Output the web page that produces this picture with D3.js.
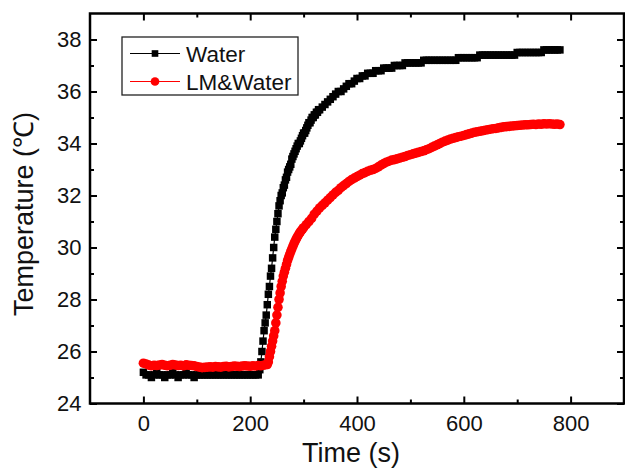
<!DOCTYPE html>
<html>
<head>
<meta charset="utf-8">
<script src="https://cdn.jsdelivr.net/npm/d3@7"></script>
<style>
  html, body { margin: 0; padding: 0; background: #fff; }
  svg { display: block; }
  text { font-family: "Liberation Sans", Arial, sans-serif; fill: #111; }
</style>
</head>
<body>
<svg id="chart" width="625" height="469"></svg>
<script>
// Temperature records, [time (s), temperature (°C)]
const waterSeries = [
  [0,25.2],[5,25.1],[10,25.1],[15,25.0],[20,25.1],[25,25.2],[30,25.1],[35,25.1],[40,25.0],[45,25.1],
  [50,25.1],[55,25.2],[60,25.1],[65,25.0],[70,25.1],[75,25.1],[80,25.2],[85,25.1],[90,25.1],[95,25.0],
  [100,25.1],[105,25.1],[110,25.1],[115,25.1],[120,25.1],[125,25.1],[130,25.1],[135,25.1],[140,25.1],
  [145,25.1],[150,25.1],[155,25.1],[160,25.1],[165,25.1],[170,25.1],[175,25.1],[180,25.1],[185,25.1],
  [190,25.1],[195,25.1],[200,25.1],[205,25.1],[210,25.1],[215,25.1],
  [218,25.3],[220,25.6],[222,26.0],[224,26.4],[226,26.8],[228,27.1],[230,27.4],[232,27.8],[234,28.2],
  [236,28.5],[238,28.9],[240,29.2],[242,29.6],[244,30.0],[246,30.4],[248,30.7],[250,31.0],[252,31.3],
  [254,31.6],[256,31.8],[258,32.0],[260,32.1],[262,32.3],[264,32.4],[266,32.6],[268,32.7],[270,32.9],
  [272,33.0],[274,33.1],[276,33.2],[278,33.4],[280,33.5],[282,33.6],[284,33.7],[286,33.8],[288,33.9],
  [290,34.0],[292,34.0],[294,34.1],[296,34.2],[298,34.3],[300,34.4],[302,34.4],[304,34.5],[306,34.6],
  [308,34.7],[310,34.8],[312,34.8],[314,34.9],[316,35.0],[318,35.0],[320,35.1],[322,35.1],[324,35.2],
  [326,35.2],[328,35.3],[330,35.3],
  [335,35.4],[340,35.5],[345,35.6],[350,35.7],[355,35.8],[360,35.9],[365,36.0],[370,36.0],[375,36.1],
  [380,36.2],[385,36.3],[390,36.3],[395,36.4],[400,36.5],[405,36.5],[410,36.6],[415,36.6],[420,36.7],
  [425,36.7],[430,36.7],[435,36.8],[440,36.8],[445,36.8],[450,36.9],[455,36.9],[460,36.9],[465,36.9],
  [470,37.0],[475,37.0],[480,37.0],[485,37.0],[490,37.1],[495,37.1],[500,37.1],[505,37.1],[510,37.1],
  [515,37.1],[520,37.1],[525,37.2],[530,37.2],[535,37.2],[540,37.2],[545,37.2],[550,37.2],[555,37.2],
  [560,37.2],[565,37.2],[570,37.2],[575,37.2],[580,37.2],[585,37.2],[590,37.3],[595,37.3],[600,37.3],
  [605,37.3],[610,37.3],[615,37.3],[620,37.3],[625,37.3],[630,37.4],[635,37.4],[640,37.4],[645,37.4],
  [650,37.4],[655,37.4],[660,37.4],[665,37.4],[670,37.4],[675,37.4],[680,37.4],[685,37.4],[690,37.4],
  [695,37.4],[700,37.5],[705,37.5],[710,37.5],[715,37.5],[720,37.5],[725,37.5],[730,37.5],[735,37.5],
  [740,37.5],[745,37.5],[750,37.6],[755,37.6],[760,37.6],[765,37.6],[770,37.6],[775,37.6],[780,37.6]
];

const lmWaterSeries = [
  [0,25.55],[5,25.52],[10,25.48],[15,25.45],[20,25.47],[25,25.46],[30,25.48],[35,25.5],[40,25.47],
  [45,25.45],[50,25.47],[55,25.5],[60,25.48],[65,25.46],[70,25.47],[75,25.45],[80,25.49],[85,25.47],
  [90,25.46],[95,25.45],[100,25.42],[105,25.4],[110,25.38],[115,25.39],[120,25.4],[125,25.41],
  [130,25.4],[135,25.42],[140,25.41],[145,25.4],[150,25.42],[155,25.43],[160,25.41],[165,25.42],
  [170,25.44],[175,25.43],[180,25.42],[185,25.44],[190,25.45],[195,25.44],[200,25.43],[205,25.45],
  [210,25.44],[215,25.46],[220,25.45],[225,25.47],[230,25.5],
  [232,25.5],[234,25.6],[236,25.8],[238,26.0],[240,26.2],[242,26.4],[244,26.6],[246,26.8],[248,27.1],
  [250,27.4],[252,27.7],[254,28.0],[256,28.25],[258,28.5],[260,28.7],[262,28.9],[264,29.05],[266,29.2],
  [268,29.35],[270,29.5],[272,29.62],[274,29.74],[276,29.85],[278,29.95],[280,30.05],[282,30.15],
  [284,30.24],[286,30.32],[288,30.4],[290,30.47],[292,30.54],[294,30.6],[296,30.66],[298,30.71],[300,30.76],
  [305,30.88],[310,31.0],[315,31.12],[320,31.28],[325,31.4],[330,31.52],[335,31.62],[340,31.72],
  [345,31.82],[350,31.92],[355,32.02],[360,32.12],[365,32.2],[370,32.3],[375,32.38],[380,32.46],
  [385,32.54],[390,32.61],[395,32.67],[400,32.73],[405,32.78],[410,32.84],[415,32.88],[420,32.93],
  [425,32.97],[430,33.0],[435,33.04],[440,33.1],[445,33.17],[450,33.23],[455,33.28],[460,33.32],
  [465,33.36],[470,33.38],[475,33.41],[480,33.44],[485,33.47],[490,33.5],[495,33.54],[500,33.57],
  [505,33.6],[510,33.63],[515,33.66],[520,33.69],[525,33.72],[530,33.76],[535,33.8],[540,33.85],
  [545,33.9],[550,33.95],[555,34.0],[560,34.05],[565,34.09],[570,34.13],[575,34.17],[580,34.2],
  [585,34.23],[590,34.26],[595,34.28],[600,34.31],[605,34.34],[610,34.37],[615,34.4],[620,34.43],
  [625,34.45],[630,34.47],[635,34.49],[640,34.51],[645,34.53],[650,34.55],[655,34.57],[660,34.58],
  [665,34.6],[670,34.62],[675,34.64],[680,34.65],[685,34.66],[690,34.67],[695,34.68],[700,34.69],
  [705,34.7],[710,34.71],[715,34.72],[720,34.72],[725,34.73],[730,34.74],[735,34.73],[740,34.75],
  [745,34.74],[750,34.76],[755,34.75],[760,34.76],[765,34.75],[770,34.74],[775,34.75],[780,34.73]
];

const seriesNames = ["Water", "LM&Water"];
const xMajorTicks = [0, 200, 400, 600, 800];
const xMinorTicks = [100, 300, 500, 700];
const yMajorTicks = [24, 26, 28, 30, 32, 34, 36, 38];
const yMinorTicks = [25, 27, 29, 31, 33, 35, 37];
const xTitle = "Time (s)";
const yTitle = "Temperature (\u2103)";

const svg = d3.select("#chart");
const plotLeft = 90, plotRight = 624, plotTop = 13.5, plotBottom = 403.5;

const x = d3.scaleLinear().domain([-100, 900]).range([plotLeft, plotRight]);
const y = d3.scaleLinear().domain([24, 39]).range([plotBottom, plotTop]);

// axes: major ticks (labelled on bottom/left) and minor ticks, all pointing inward
function styleAxis(g) {
  g.select(".domain").remove();
  g.selectAll(".tick line").attr("stroke", "#000").attr("stroke-width", 2);
}
function styleLabels(g) {
  g.selectAll("text")
    .attr("font-size", 22)
    .attr("font-family", "Liberation Sans, Arial, sans-serif")
    .attr("fill", "#111");
}

svg.append("g").attr("transform", `translate(0,${plotBottom})`)
  .call(d3.axisBottom(x).tickValues(xMajorTicks).tickSize(-7).tickPadding(11.5).tickFormat(d3.format("d")))
  .call(styleAxis).call(styleLabels);
svg.append("g").attr("transform", `translate(0,${plotBottom})`)
  .call(d3.axisBottom(x).tickValues(xMinorTicks).tickSize(-4).tickFormat(""))
  .call(styleAxis);
svg.append("g").attr("transform", `translate(0,${plotTop})`)
  .call(d3.axisTop(x).tickValues(xMajorTicks).tickSize(-7).tickFormat(""))
  .call(styleAxis);
svg.append("g").attr("transform", `translate(0,${plotTop})`)
  .call(d3.axisTop(x).tickValues(xMinorTicks).tickSize(-4).tickFormat(""))
  .call(styleAxis);

svg.append("g").attr("transform", `translate(${plotLeft},0)`)
  .call(d3.axisLeft(y).tickValues(yMajorTicks).tickSize(-7).tickPadding(8.5).tickFormat(d3.format("d")))
  .call(styleAxis).call(styleLabels);
svg.append("g").attr("transform", `translate(${plotLeft},0)`)
  .call(d3.axisLeft(y).tickValues(yMinorTicks).tickSize(-4).tickFormat(""))
  .call(styleAxis);
svg.append("g").attr("transform", `translate(${plotRight},0)`)
  .call(d3.axisRight(y).tickValues(yMajorTicks).tickSize(-7).tickFormat(""))
  .call(styleAxis);
svg.append("g").attr("transform", `translate(${plotRight},0)`)
  .call(d3.axisRight(y).tickValues(yMinorTicks).tickSize(-4).tickFormat(""))
  .call(styleAxis);

// plot frame
svg.append("rect")
  .attr("x", plotLeft).attr("y", plotTop)
  .attr("width", plotRight - plotLeft).attr("height", plotBottom - plotTop)
  .attr("fill", "none").attr("stroke", "#000").attr("stroke-width", 2.5);

// axis titles
svg.append("text")
  .attr("x", 351).attr("y", 462)
  .attr("text-anchor", "middle").attr("font-size", 27)
  .text(xTitle);
svg.append("text")
  .attr("transform", "translate(33,214) rotate(-90)")
  .attr("text-anchor", "middle").attr("font-size", 27)
  .text(yTitle);

// data series: thin connecting line plus dense symbols
const line = d3.line().x(d => x(d[0])).y(d => y(d[1]));
const series = [
  { name: seriesNames[0], data: waterSeries, color: "#000", symbol: d3.symbolSquare, size: 56 },
  { name: seriesNames[1], data: lmWaterSeries, color: "#ff0000", symbol: d3.symbolCircle, size: 72 }
];

series.forEach(s => {
  const g = svg.append("g");
  g.append("path").datum(s.data)
    .attr("d", line).attr("fill", "none")
    .attr("stroke", s.color).attr("stroke-width", 1.2);
  g.selectAll("path.pt").data(s.data).join("path")
    .attr("class", "pt")
    .attr("transform", d => `translate(${x(d[0])},${y(d[1])})`)
    .attr("d", d3.symbol().type(s.symbol).size(s.size))
    .attr("fill", s.color);
});

// legend
const legend = svg.append("g");
legend.append("rect")
  .attr("x", 122).attr("y", 37).attr("width", 176).attr("height", 58)
  .attr("fill", "#fff").attr("stroke", "#222").attr("stroke-width", 1.3);
const legendRows = [53.5, 81.5];
series.forEach((s, i) => {
  const ry = legendRows[i];
  legend.append("line")
    .attr("x1", 130).attr("x2", 180).attr("y1", ry).attr("y2", ry)
    .attr("stroke", s.color).attr("stroke-width", 1);
  legend.append("path")
    .attr("transform", `translate(155,${ry})`)
    .attr("d", d3.symbol().type(s.symbol).size(s.symbol === d3.symbolSquare ? 44 : 60))
    .attr("fill", s.color);
  legend.append("text")
    .attr("x", 186).attr("y", ry + 8)
    .attr("font-size", 22.5)
    .text(s.name);
});
</script>
</body>
</html>
